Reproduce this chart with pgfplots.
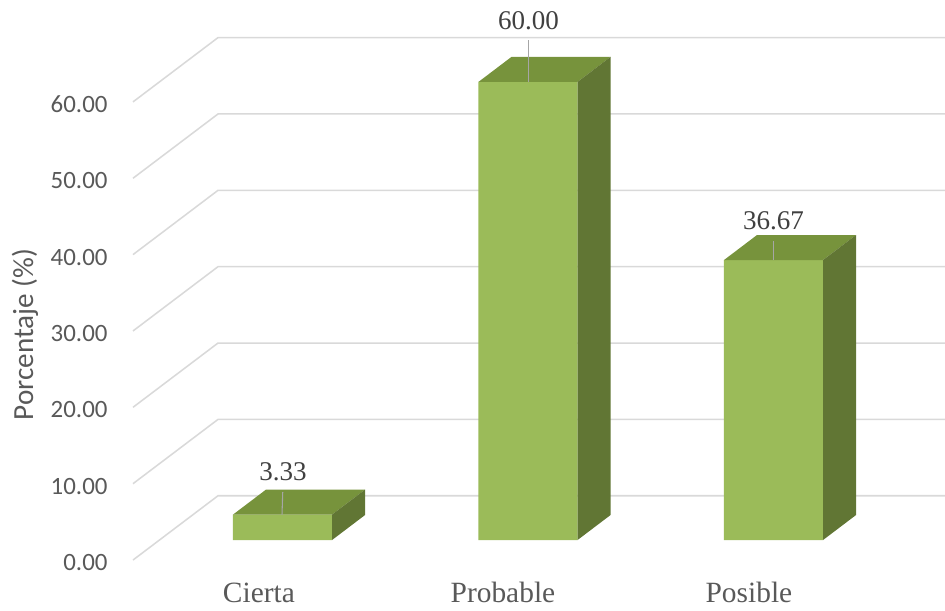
\documentclass[border=0pt]{standalone}
\usepackage{pgfplots}
\pgfplotsset{compat=1.18}
\usepackage{pgfplotstable}
\usepackage{fontspec}
\setmainfont{Liberation Serif}
\newfontfamily\carlito{Carlito}

\definecolor{barfront}{HTML}{9BBB59}
\definecolor{bartop}{HTML}{77933C}
\definecolor{barside}{HTML}{617634}
\definecolor{gridgray}{HTML}{D9D9D9}
\definecolor{tickgray}{HTML}{595959}
\definecolor{labeldark}{HTML}{404040}
\definecolor{leadergray}{HTML}{A6A6A6}

% category index and percentage
\pgfplotstableread{
x v
0 3.33
1 60.00
2 36.67
}\data

% depth of the 3-D columns (axis units) and half the column width
\newcommand\depthx{0.1344}
\newcommand\depthy{3.274}
\newcommand\halfw{0.2017}

% top and side faces of one column: #1 = category, #2 = value
\newcommand\barfaces[2]{%
  \pgfmathsetmacro\xl{#1-\halfw}%
  \pgfmathsetmacro\xr{#1+\halfw}%
  \pgfmathsetmacro\xbl{#1-\halfw+\depthx}%
  \pgfmathsetmacro\xbr{#1+\halfw+\depthx}%
  \pgfmathsetmacro\yt{#2+\depthy}%
  \addplot[fill=bartop, draw=none] coordinates {(\xl,#2) (\xr,#2) (\xbr,\yt) (\xbl,\yt)};
  \addplot[fill=barside, draw=none] coordinates {(\xr,0) (\xr,#2) (\xbr,\yt) (\xbr,\depthy)};
}

\begin{document}
\begin{tikzpicture}
\begin{axis}[
  scale only axis,
  width=12.400cm, height=8.919cm,
  xmin=-0.7108, xmax=2.6986,
  ymin=-8.121, ymax=70.727,
  clip=false,
  axis line style={draw=none},
  major tick length=0pt,
  tick style={draw=none},
  xtick={-0.096,0.898,1.900},
  xticklabels={Cierta,Probable,Posible},
  xticklabel style={anchor=base, inner sep=0pt, text=tickgray,
    font=\fontsize{12.4}{14}\selectfont},
  ytick={-2.97,7.03,17.03,27.03,37.03,47.03,57.03},
  yticklabels={0.00,10.00,20.00,30.00,40.00,50.00,60.00},
  yticklabel style={anchor=east, inner sep=0pt, text=tickgray,
    font=\carlito\fontsize{10.5}{12}\selectfont},
  ylabel={Porcentaje (\%)},
  ylabel style={at={(axis cs:-1.049,26.92)}, anchor=center, text=tickgray,
    font=\carlito\fontsize{12.3}{14}\selectfont},
]
% gridlines on the floor edge and back wall
\addplot[gridgray, line width=0.65pt] coordinates {(-0.609,-2.62) (-0.2627,5.80) (2.6986,5.80)};
\addplot[gridgray, line width=0.65pt] coordinates {(-0.609,7.38) (-0.2627,15.80) (2.6986,15.80)};
\addplot[gridgray, line width=0.65pt] coordinates {(-0.609,17.38) (-0.2627,25.80) (2.6986,25.80)};
\addplot[gridgray, line width=0.65pt] coordinates {(-0.609,27.38) (-0.2627,35.80) (2.6986,35.80)};
\addplot[gridgray, line width=0.65pt] coordinates {(-0.609,37.38) (-0.2627,45.80) (2.6986,45.80)};
\addplot[gridgray, line width=0.65pt] coordinates {(-0.609,47.38) (-0.2627,55.80) (2.6986,55.80)};
\addplot[gridgray, line width=0.65pt] coordinates {(-0.609,57.38) (-0.2627,65.80) (2.6986,65.80)};

% front faces of the columns
\addplot[ybar, bar width=0.4034, bar shift=0pt, fill=barfront, draw=none]
  table[x=x, y=v] {\data};

% top and side faces
\barfaces{0}{3.33}
\barfaces{1}{60.00}
\barfaces{2}{36.67}

% leader lines and value labels
\draw[leadergray, line width=0.45pt] (axis cs:-0.002,3.33) -- (axis cs:0.001,{3.33+2.96});
\draw[leadergray, line width=0.45pt] (axis cs:1.002,60.00) -- (axis cs:1.002,{60.00+5.49});
\draw[leadergray, line width=0.45pt] (axis cs:2.000,36.67) -- (axis cs:2.000,{36.67+2.49});
\node[anchor=base, inner sep=0pt, text=labeldark, font=\fontsize{11.4}{13}\selectfont]
  at (axis cs:0.002,{3.33+4.53}) {3.33};
\node[anchor=base, inner sep=0pt, text=labeldark, font=\fontsize{11.4}{13}\selectfont]
  at (axis cs:1.002,{60.00+6.80}) {60.00};
\node[anchor=base, inner sep=0pt, text=labeldark, font=\fontsize{11.4}{13}\selectfont]
  at (axis cs:2.000,{36.67+4.06}) {36.67};

% corners of the whole picture
\coordinate (pic-sw) at (axis cs:-1.1507,-9.169);
\coordinate (pic-ne) at (axis cs:2.6986,70.727);
\end{axis}
\pgfresetboundingbox
\useasboundingbox (pic-sw) rectangle (pic-ne);
\end{tikzpicture}
\end{document}
